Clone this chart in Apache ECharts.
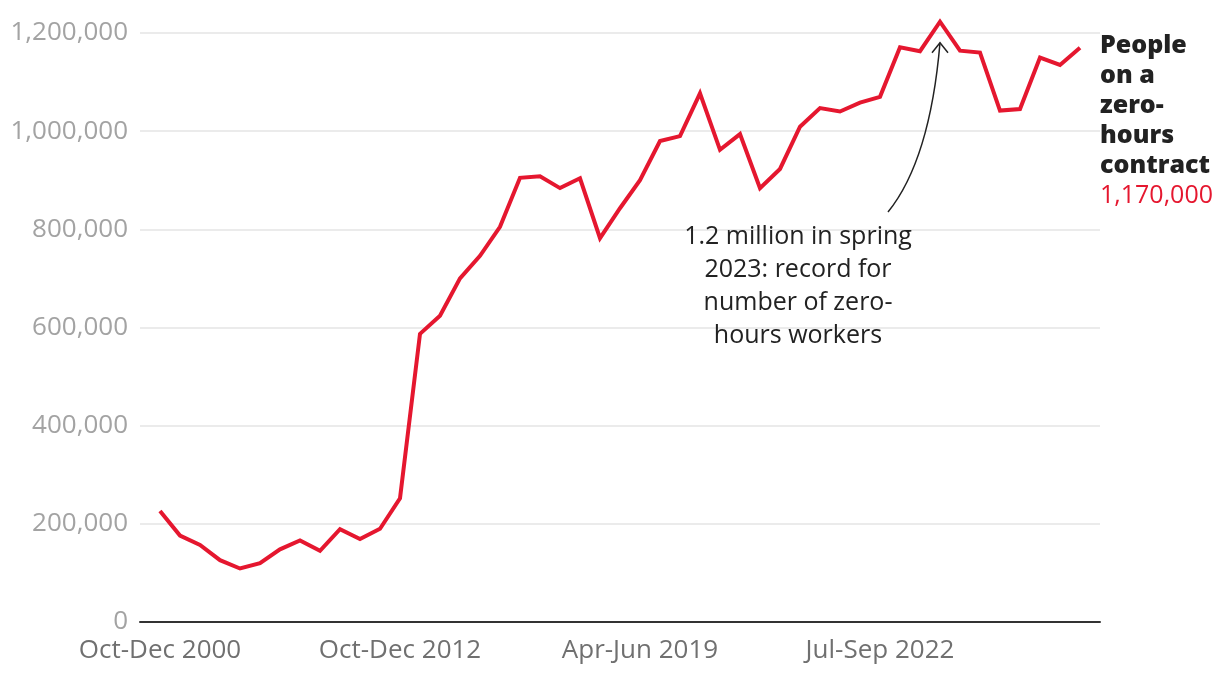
<!DOCTYPE html>
<html>
<head>
<meta charset="utf-8">
<script src="https://cdn.jsdelivr.net/npm/echarts@6/dist/echarts.min.js"></script>
<style>
html,body{margin:0;padding:0;background:#fff;}
#chart{width:1220px;height:674px;}
</style>
</head>
<body>
<div id="chart"></div>
<script>
const categories = [
  'Oct-Dec 2000','Oct-Dec 2001','Oct-Dec 2002','Oct-Dec 2003','Oct-Dec 2004','Oct-Dec 2005',
  'Oct-Dec 2006','Oct-Dec 2007','Oct-Dec 2008','Oct-Dec 2009','Oct-Dec 2010','Oct-Dec 2011',
  'Oct-Dec 2012','Oct-Dec 2013','Apr-Jun 2014','Oct-Dec 2014','Apr-Jun 2015','Oct-Dec 2015',
  'Apr-Jun 2016','Oct-Dec 2016','Apr-Jun 2017','Oct-Dec 2017','Apr-Jun 2018','Oct-Dec 2018',
  'Apr-Jun 2019','Oct-Dec 2019','Jan-Mar 2020','Apr-Jun 2020','Jul-Sep 2020','Oct-Dec 2020',
  'Jan-Mar 2021','Apr-Jun 2021','Jul-Sep 2021','Oct-Dec 2021','Jan-Mar 2022','Apr-Jun 2022',
  'Jul-Sep 2022','Oct-Dec 2022','Jan-Mar 2023','Apr-Jun 2023','Jul-Sep 2023','Oct-Dec 2023',
  'Jan-Mar 2024','Apr-Jun 2024','Jul-Sep 2024','Oct-Dec 2024','Jan-Mar 2025'
];
const zeroHours = [
  226000,176000,157000,126000,109000,120000,148000,166000,145000,189000,169000,190000,
  252000,587000,624000,700000,746000,805000,905000,908000,884000,904000,782000,843000,
  900000,980000,990000,1077000,962000,994000,884000,923000,1009000,1047000,1040000,1058000,
  1070000,1171000,1163000,1223000,1164000,1160000,1042000,1045000,1150000,1135000,1170000
];
const xTickIndices = [0, 12, 24, 36];
const yTicks = [0, 200000, 400000, 600000, 800000, 1000000, 1200000];
const seriesName = 'People on a zero-hours contract';
const latestLabel = '1,170,000';
const annotationText = '1.2 million in spring\n2023: record for\nnumber of zero-\nhours workers';
const peakIndex = 39;

const FONT = '"Open Sans", sans-serif';
const RED = '#e5172f';

const chart = echarts.init(document.getElementById('chart'), null, {renderer: 'canvas'});
const option = {
  animation: false,
  backgroundColor: '#fff',
  grid: {left: 140, right: 120, top: 33, bottom: 52, containLabel: false},
  xAxis: {
    type: 'value',
    min: -1,
    max: categories.length,
    axisLine: {show: true, onZero: false, lineStyle: {color: '#333', width: 2}},
    axisTick: {show: false},
    splitLine: {show: false},
    axisLabel: {
      customValues: xTickIndices,
      formatter: v => categories[v] || '',
      color: '#707070',
      fontFamily: FONT,
      fontSize: 26,
      margin: 16
    }
  },
  yAxis: {
    type: 'value',
    min: yTicks[0],
    max: yTicks[yTicks.length - 1],
    interval: 200000,
    axisLine: {show: false},
    axisTick: {show: false},
    splitLine: {lineStyle: {color: '#e4e4e4', width: 1.5}},
    axisLabel: {
      formatter: v => v.toLocaleString('en-US'),
      color: '#a3a3a3',
      fontFamily: FONT,
      fontSize: 26,
      margin: 12
    }
  },
  series: [{
    name: seriesName,
    type: 'line',
    data: zeroHours.map((v, i) => [i, v]),
    showSymbol: false,
    clip: false,
    lineStyle: {color: RED, width: 4, join: 'miter'},
    itemStyle: {color: RED}
  }]
};
chart.setOption(option);

const peak = chart.convertToPixel({seriesIndex: 0}, [peakIndex, zeroHours[peakIndex]]);
const last = chart.convertToPixel({seriesIndex: 0}, [zeroHours.length - 1, zeroHours[zeroHours.length - 1]]);
const tipX = peak[0], tipY = peak[1] + 21;
chart.setOption({
  graphic: [
    {
      type: 'text', left: last[0] + 20, top: 33,
      style: {
        text: '{b|People\non a\nzero-\nhours\ncontract}\n{r|' + latestLabel + '}',
        rich: {
          b: {fontFamily: FONT, fontWeight: 800, fontSize: 25, lineHeight: 30, fill: '#222'},
          r: {fontFamily: FONT, fontSize: 25, lineHeight: 30, fill: RED}
        }
      }
    },
    {
      type: 'text', x: 798, y: 220,
      style: {
        text: annotationText, align: 'center', verticalAlign: 'top',
        fontFamily: FONT, fontSize: 25, lineHeight: 33, fill: '#222'
      }
    },
    {
      type: 'bezierCurve',
      shape: {x1: 888, y1: 212, x2: tipX, y2: tipY, cpx1: 930, cpy1: 160},
      style: {stroke: '#222', lineWidth: 1.5, fill: null}
    },
    {
      type: 'polyline',
      shape: {points: [[tipX - 8, tipY + 10], [tipX, tipY], [tipX + 8, tipY + 10]]},
      style: {stroke: '#222', lineWidth: 1.5, fill: null}
    }
  ]
});
</script>
</body>
</html>
